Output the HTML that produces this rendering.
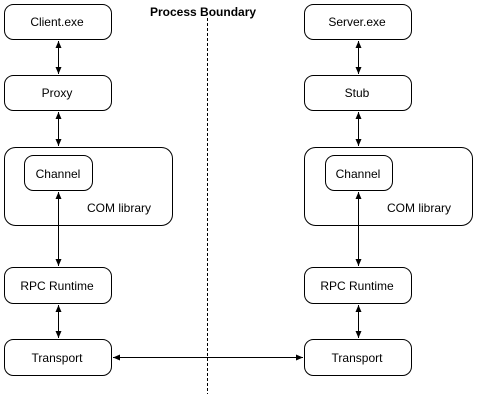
<!DOCTYPE html>
<html><head><meta charset="utf-8"><style>
html,body{margin:0;padding:0;background:#fff;}
svg{display:block;}
text{font-family:"Liberation Sans",Arial,sans-serif;font-size:12px;fill:#000;}
</style></head><body>
<svg width="494" height="401" viewBox="0 0 494 401" xmlns="http://www.w3.org/2000/svg">
<defs>
<marker id="a" markerWidth="8" markerHeight="8" refX="7" refY="4" orient="auto-start-reverse" markerUnits="userSpaceOnUse">
<path d="M0,1 L7,4 L0,7 Z" fill="#000"/>
</marker>
</defs>
<g fill="none" stroke="#000" stroke-width="1">
<rect x="4.5" y="4.5" width="107" height="35" rx="9"/>
<rect x="4.5" y="75.5" width="107" height="35" rx="9"/>
<rect x="4.5" y="147.5" width="168" height="78" rx="11"/>
<rect x="24.5" y="155.5" width="68" height="35" rx="9"/>
<rect x="4.5" y="267.5" width="107" height="36" rx="9"/>
<rect x="4.5" y="339.5" width="107" height="36" rx="9"/>

<rect x="304.5" y="4.5" width="107" height="35" rx="9"/>
<rect x="304.5" y="75.5" width="107" height="35" rx="9"/>
<rect x="304.5" y="147.5" width="168" height="78" rx="11"/>
<rect x="325.5" y="155.5" width="67" height="35" rx="9"/>
<rect x="304.5" y="267.5" width="107" height="36" rx="9"/>
<rect x="304.5" y="339.5" width="107" height="36" rx="9"/>

<line x1="207.5" y1="18" x2="207.5" y2="394" stroke-dasharray="3,2"/>

<g marker-start="url(#a)" marker-end="url(#a)">
<line x1="58.5" y1="41" x2="58.5" y2="74"/>
<line x1="58.5" y1="112" x2="58.5" y2="146"/>
<line x1="58.5" y1="192" x2="58.5" y2="266"/>
<line x1="58.5" y1="305" x2="58.5" y2="338"/>
<line x1="358.5" y1="41" x2="358.5" y2="74"/>
<line x1="358.5" y1="112" x2="358.5" y2="146"/>
<line x1="358.5" y1="192" x2="358.5" y2="266"/>
<line x1="358.5" y1="305" x2="358.5" y2="338"/>
<line x1="113" y1="357.5" x2="303" y2="357.5"/>
</g>
</g>
<text x="150" y="16" style="font-weight:bold">Process Boundary</text>
<g text-anchor="middle">
<text x="57" y="26">Client.exe</text>
<text x="57" y="97">Proxy</text>
<text x="58" y="178">Channel</text>
<text x="57" y="290">RPC Runtime</text>
<text x="57" y="362">Transport</text>
<text x="357" y="26">Server.exe</text>
<text x="357" y="97">Stub</text>
<text x="358" y="178">Channel</text>
<text x="357" y="290">RPC Runtime</text>
<text x="357" y="362">Transport</text>
</g>
<text x="87" y="212">COM library</text>
<text x="387" y="212">COM library</text>
</svg>
</body></html>
